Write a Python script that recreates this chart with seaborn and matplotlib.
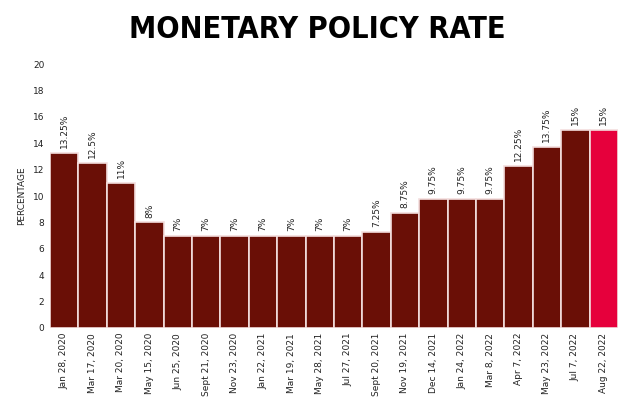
import matplotlib
matplotlib.use("Agg")
import matplotlib.pyplot as plt
import matplotlib.transforms as mtransforms
from matplotlib import font_manager
import pandas as pd
import seaborn as sns

dates = ["Jan 28, 2020", "Mar 17, 2020", "Mar 20, 2020", "May 15, 2020", "Jun 25, 2020",
         "Sept 21, 2020", "Nov 23, 2020", "Jan 22, 2021", "Mar 19, 2021", "May 28, 2021",
         "Jul 27, 2021", "Sept 20, 2021", "Nov 19, 2021", "Dec 14, 2021", "Jan 24, 2022",
         "Mar 8, 2022", "Apr 7, 2022", "May 23, 2022", "Jul 7, 2022", "Aug 22, 2022"]
rates = [13.25, 12.5, 11, 8, 7, 7, 7, 7, 7, 7, 7, 7.25, 8.75, 9.75, 9.75, 9.75,
         12.25, 13.75, 15, 15]
rate_labels = ["13.25%", "12.5%", "11%", "8%", "7%", "7%", "7%", "7%", "7%", "7%", "7%",
               "7.25%", "8.75%", "9.75%", "9.75%", "9.75%", "12.25%", "13.75%", "15%", "15%"]
y_ticks = [0, 2, 4, 6, 8, 10, 12, 14, 16, 18, 20]

df = pd.DataFrame({"date": dates, "rate": rates})
colors = ["#6a0f06"] * (len(dates) - 1) + ["#e6003c"]

sns.set_style("white")
plt.rcParams["font.family"] = ["DejaVu Sans"]

fig = plt.figure(figsize=(6.22, 3.98), dpi=100)
ax = fig.add_axes([0.0804, 0.176, 0.913, 0.663])

sns.barplot(data=df, x="date", y="rate", hue="date", palette=colors, legend=False,
            width=1.0, edgecolor="#f3dede", linewidth=1.2, saturation=1, ax=ax)

ax.set_xlim(-0.5, len(dates) - 0.5)
ax.set_ylim(0, 20)
ax.set_yticks(y_ticks)
ax.set_yticklabels([str(t) for t in y_ticks], fontsize=6.5, color="#222222")
shift = mtransforms.ScaledTranslation(0, 5 / 72, fig.dpi_scale_trans)
for lab in ax.get_yticklabels():
    lab.set_transform(lab.get_transform() + shift)
ax.tick_params(axis="y", length=0, pad=4)
ax.tick_params(axis="x", length=0, pad=3.5)
ax.set_xticks(range(len(dates)))
ax.set_xticklabels(dates, rotation=90, fontsize=6.5, color="#222222")
ax.set_xlabel("")
ax.set_ylabel("PERCENTAGE", fontsize=6.5, color="#222222", labelpad=5)
for s in ax.spines.values():
    s.set_visible(False)

for i, (v, lab) in enumerate(zip(rates, rate_labels)):
    ax.annotate(lab, (i, v), xytext=(0, 3.5), textcoords="offset points",
                rotation=90, ha="center", va="bottom", fontsize=6.5, color="#222222")

# title font: narrow if available
names = {f.name for f in font_manager.fontManager.ttflist}
title_family = "Liberation Sans Narrow" if "Liberation Sans Narrow" in names else "DejaVu Sans"
fig.text(0.51, 0.925, "MONETARY POLICY RATE", ha="center", va="center",
         fontsize=22, fontweight="bold", fontstretch="condensed", family=[title_family],
         color="black")

fig.savefig("out.png", dpi=100)
